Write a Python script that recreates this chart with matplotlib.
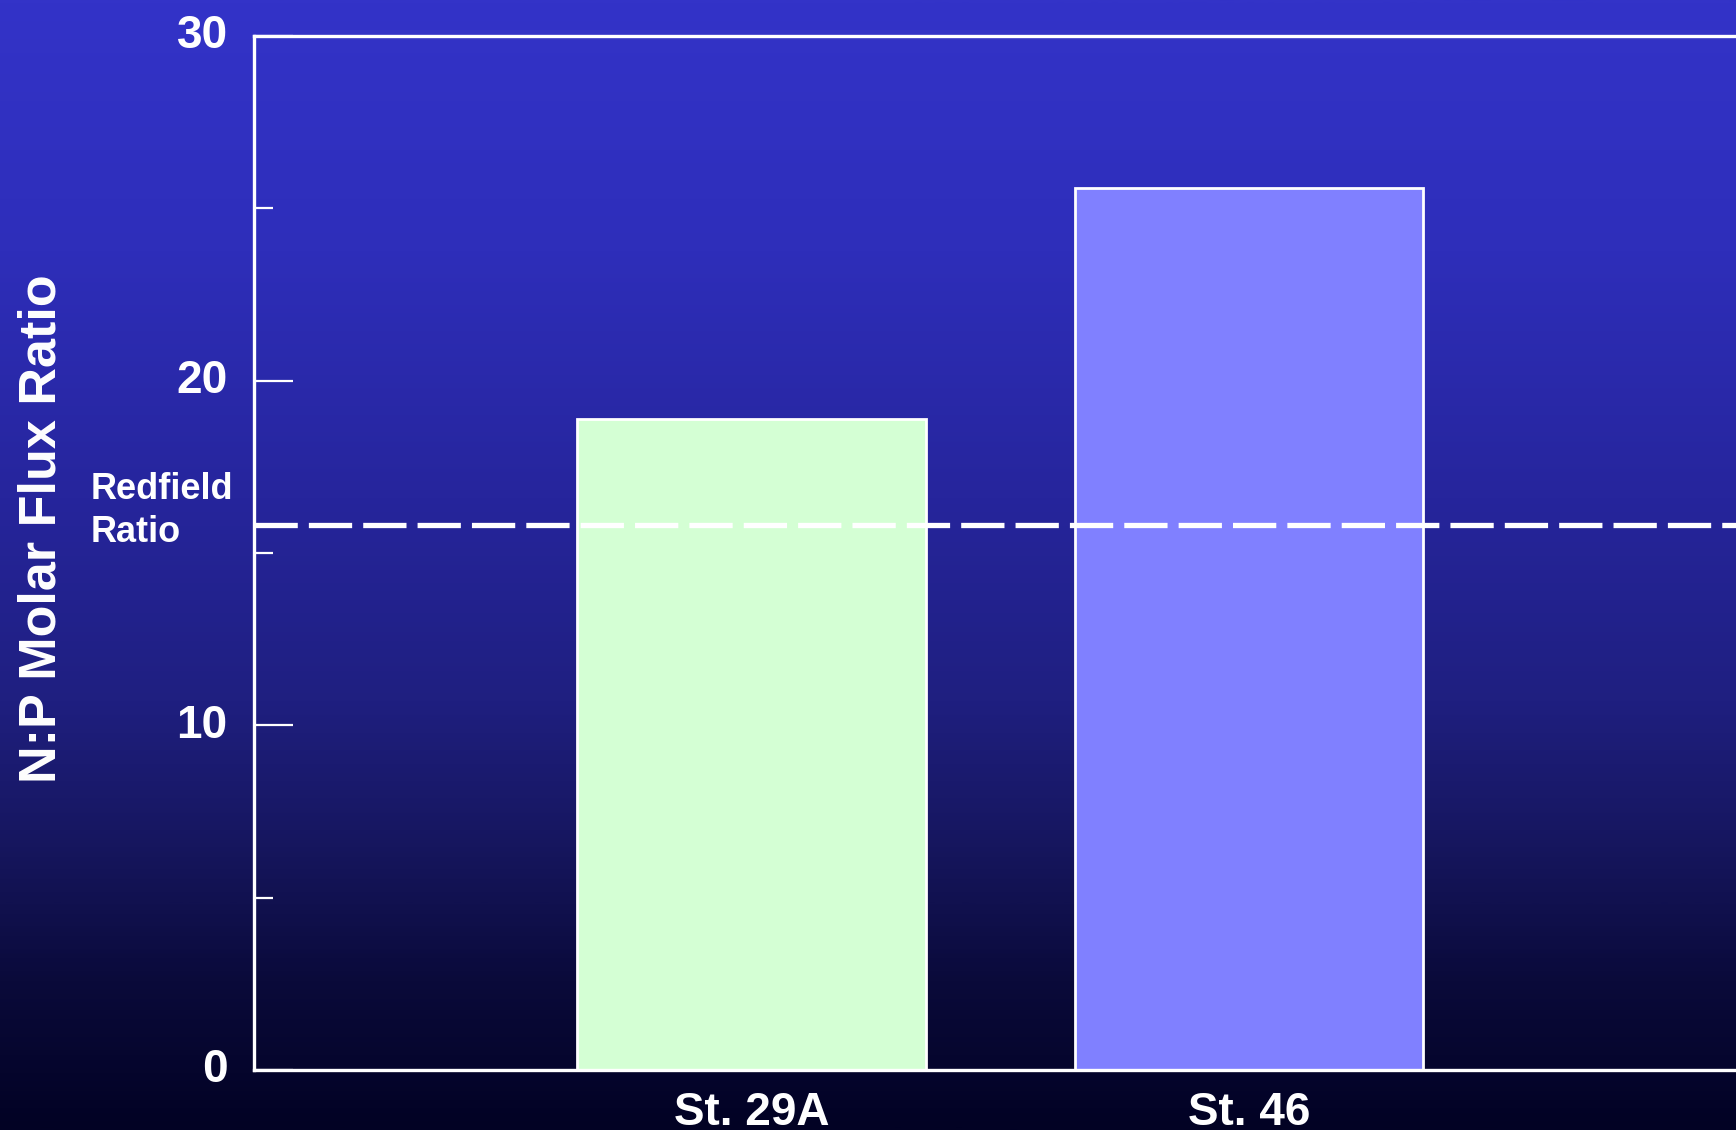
import numpy as np
import matplotlib
matplotlib.use("Agg")
import matplotlib.pyplot as plt
import matplotlib.transforms as mtransforms
from matplotlib.colors import LinearSegmentedColormap

categories = ["St. 29A", "St. 46"]
values = [18.9, 25.6]
bar_colors = ["#D4FFD4", "#8080FF"]
redfield = 15.8
yticks_major = [0, 10, 20, 30]
yticks_minor = [5, 15, 25]

plt.rcParams['font.family'] = ['Liberation Sans', 'DejaVu Sans']
plt.rcParams['font.weight'] = 'bold'

W, H, DPI = 1736, 1130, 100
fig = plt.figure(figsize=(W / DPI, H / DPI), dpi=DPI)

# background gradient
bg = fig.add_axes([0, 0, 1, 1], zorder=-10)
stops = [(0.0, "#3333C8"), (0.22, "#2E2EBA"), (0.44, "#26259C"), (0.62, "#1F1F80"),
         (0.75, "#16165E"), (0.87, "#0A0A3A"), (1.0, "#020224")]
cmap = LinearSegmentedColormap.from_list("bg", stops)
grad = np.linspace(0, 1, 512).reshape(-1, 1)
bg.imshow(grad, aspect="auto", cmap=cmap, extent=[0, 1, 1, 0])
bg.set_xlim(0, 1); bg.set_ylim(1, 0)
bg.axis("off")

left_px, right_px, top_px, bot_px = 254, 1746.5, 36, 1070
ax = fig.add_axes([left_px / W, 1 - bot_px / H, (right_px - left_px) / W, (bot_px - top_px) / H])
ax.patch.set_alpha(0)

x = np.arange(len(categories))
ax.bar(x, values, width=0.70, color=bar_colors, edgecolor="white", linewidth=2.0, zorder=2)
ax.axhline(redfield, color="white", linewidth=3.8, dashes=(8.2, 2.1), dash_capstyle="butt", zorder=3)

ax.set_xlim(-1, 2)
ax.set_ylim(0, 30)
ax.set_yticks(yticks_major)
ax.set_yticks(yticks_minor, minor=True)
ax.set_xticks(x)
ax.set_xticklabels(categories)

for s in ["left", "bottom", "top"]:
    ax.spines[s].set_color("white")
    ax.spines[s].set_linewidth(2.4)
ax.spines["right"].set_visible(False)

ax.tick_params(axis="y", which="major", direction="in", length=28, width=1.6, color="white",
               labelcolor="white", labelsize=33, pad=19)
ax.tick_params(axis="y", which="minor", direction="in", length=14, width=1.6, color="white")
ax.tick_params(axis="x", which="both", length=0, labelcolor="white", labelsize=33, pad=15)
for lbl in ax.get_xticklabels() + ax.get_yticklabels():
    lbl.set_fontweight("bold")

offset = mtransforms.ScaledTranslation(0, 0.045, fig.dpi_scale_trans)
for tick in ax.yaxis.get_major_ticks():
    tick.label1.set_transform(tick.label1.get_transform() + offset)

fig.text(42 / W, 1 - 529 / H, "N:P Molar Flux Ratio", rotation=90, color="white",
         fontsize=37.5, fontweight="bold", ha="center", va="center")
fig.text(91 / W, 1 - 511 / H, "Redfield\nRatio", color="white", fontsize=26,
         fontweight="bold", ha="left", va="center", linespacing=1.33)

fig.savefig("out.png", dpi=DPI)
